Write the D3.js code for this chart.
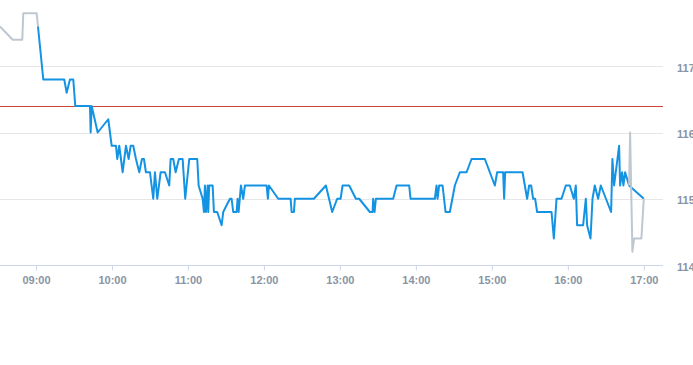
<!DOCTYPE html>
<html><head><meta charset="utf-8">
<script src="https://cdn.jsdelivr.net/npm/d3@7"></script>
<style>
html,body{margin:0;padding:0;background:#fff;}
svg{display:block;}
text{font-family:"Liberation Sans",Arial,sans-serif;}
</style></head>
<body><svg id="chart" width="693" height="365"></svg>
<script>
// ---- data ----
const preTimes = ["08:31:35","08:41:36","08:49:11","08:49:58","09:00:33","09:01:35"];
const preValues = [117.6,117.4,117.4,117.8,117.8,117.6];

const mainTimes = ["09:01:35","09:05:46","09:22:20","09:24:14","09:26:50","09:29:27","09:31:02","09:42:38","09:43:11","09:43:58",
"09:48:43","09:57:05","09:59:46","10:03:10","10:04:11","10:05:46","10:08:27","10:11:03","10:13:11","10:14:46",
"10:16:49","10:18:57","10:21:33","10:23:41","10:25:16","10:26:50","10:30:00","10:32:37","10:33:57","10:35:46",
"10:38:27","10:41:50","10:45:14","10:46:20","10:48:23","10:50:17","10:52:53","10:55:49","10:57:52","11:01:02",
"11:07:21","11:08:27","11:11:37","11:12:38","11:13:25","11:14:13","11:15:33","11:16:02","11:16:49","11:19:30",
"11:20:32","11:23:08","11:26:37","11:27:52","11:33:10","11:34:30","11:35:46","11:38:27","11:39:14","11:40:02",
"11:41:50","11:43:39","11:45:00","12:02:08","12:03:09","12:03:57","12:11:18","12:21:05","12:21:52","12:23:41",
"12:24:28","12:39:28","12:48:57","12:53:55","12:57:52","13:00:33","13:02:08","13:07:20","13:12:38","13:15:14",
"13:23:41","13:25:49","13:26:17","13:27:24","13:28:25","13:42:05","13:44:46","13:54:43","13:55:49","14:15:00",
"14:16:20","14:17:08","14:18:23","14:21:05","14:23:27","14:26:50","14:30:47","14:34:44","14:40:02","14:43:58",
"14:54:28","15:02:22","15:04:11","15:08:55","15:09:43","15:10:30","15:24:14","15:27:52","15:29:27","15:31:02",
"15:32:37","15:34:11","15:35:46","15:47:08","15:48:57","15:51:05","15:55:02","15:58:25","16:01:35","16:04:44",
"16:06:19","16:07:20","16:12:05","16:14:13","16:15:14","16:17:55","16:19:30","16:21:19","16:23:55","16:26:03",
"16:34:11","16:35:13","16:36:33","16:40:30","16:41:17","16:42:52","16:43:53","16:45:14","16:48:23","17:00:00"];
const mainValues = [117.6,116.8,116.8,116.6,116.8,116.8,116.4,116.4,116.0,116.4,
116.0,116.2,115.8,115.8,115.6,115.8,115.4,115.8,115.6,115.8,
115.8,115.6,115.4,115.6,115.6,115.4,115.4,115.0,115.4,115.0,
115.4,115.4,115.2,115.6,115.6,115.4,115.6,115.6,115.0,115.6,
115.6,115.2,115.0,114.8,115.2,114.8,115.2,114.8,115.2,115.2,
114.8,114.8,114.6,114.8,115.0,115.0,114.8,114.8,115.0,114.8,
115.2,115.0,115.2,115.2,115.0,115.2,115.0,115.0,114.8,114.8,
115.0,115.0,115.2,114.8,115.0,115.0,115.2,115.2,115.0,115.0,
114.8,114.8,115.0,114.8,115.0,115.0,115.2,115.2,115.0,115.0,
115.2,115.0,115.2,115.2,114.8,114.8,115.2,115.4,115.4,115.6,
115.6,115.2,115.4,115.4,115.0,115.4,115.4,115.0,115.2,115.2,
115.0,115.0,114.8,114.8,114.4,115.0,115.0,115.2,115.2,115.0,
115.2,114.6,114.6,115.0,114.6,114.4,115.0,115.2,115.0,115.2,
114.8,115.6,115.2,115.8,115.2,115.4,115.2,115.4,115.2,115.0];

const postTimes = ["16:48:23","16:49:11","16:51:00","16:52:20","16:58:06","17:00:00"];
const postValues = [115.2,116.0,114.2,114.4,114.4,115.0];

const refLevel = 116.4;
const yTicks = [114,115,116,117];
const xTickLabels = ["09:00","10:00","11:00","12:00","13:00","14:00","15:00","16:00","17:00"];
const xDomain = ["08:31:35","17:15:10"];
const yDomain = [114,118];

// ---- chart ----
const parse = d3.timeParse("%H:%M:%S");
const parseHM = d3.timeParse("%H:%M");
const W = 663, plotTop = 0, plotBottom = 265;
const svg = d3.select("#chart");
const x = d3.scaleTime().domain(xDomain.map(parse)).range([0, W]);
const y = d3.scaleLinear().domain(yDomain).range([plotBottom, plotTop]);

// gridlines
svg.append("g").selectAll("line").data(yTicks.filter(d=>d!==yDomain[0])).join("line")
  .attr("x1",0).attr("x2",W).attr("y1",d=>Math.round(y(d))+0.5).attr("y2",d=>Math.round(y(d))+0.5)
  .attr("stroke","#e6e6e6").attr("stroke-width",1);

// y labels (right)
svg.append("g").selectAll("text").data(yTicks).join("text")
  .attr("x",677).attr("y",d=>y(d)+5.5)
  .attr("font-size","11px").attr("font-weight","bold").attr("fill","#8a94a4")
  .text(d=>d);

// x axis
const xAxis = d3.axisBottom(x)
  .tickValues(xTickLabels.map(parseHM))
  .tickFormat(d3.timeFormat("%H:%M"))
  .tickSize(5).tickPadding(6);
const gx = svg.append("g").attr("transform",`translate(0,${Math.round(plotBottom)+0.5})`).call(xAxis);
gx.select(".domain").attr("stroke","#ccd6eb").attr("d",`M0,0H${W}`);
gx.selectAll(".tick line").attr("stroke","#ccd6eb");
gx.selectAll(".tick text").attr("fill","#8a94a4").attr("font-size","11px")
  .attr("font-weight","bold").attr("font-family","'Liberation Sans',Arial,sans-serif");

// reference line
svg.append("line").attr("x1",0).attr("x2",W)
  .attr("y1",Math.round(y(refLevel))+0.5).attr("y2",Math.round(y(refLevel))+0.5)
  .attr("stroke","#d0453a").attr("stroke-width",1);

const line = d3.line().x(d=>x(d[0])).y(d=>y(d[1]));
const zip = (t,v)=>t.map((s,i)=>[parse(s),v[i]]);

svg.append("path").datum(zip(preTimes,preValues)).attr("d",line)
  .attr("fill","none").attr("stroke","#bfc7d0").attr("stroke-width",2).attr("stroke-linejoin","round");
svg.append("path").datum(zip(mainTimes,mainValues)).attr("d",line)
  .attr("fill","none").attr("stroke","#1593e3").attr("stroke-width",2).attr("stroke-linejoin","round");
svg.append("path").datum(zip(postTimes,postValues)).attr("d",line)
  .attr("fill","none").attr("stroke","#bfc7d0").attr("stroke-width",2).attr("stroke-linejoin","round");
</script>
</body></html>
